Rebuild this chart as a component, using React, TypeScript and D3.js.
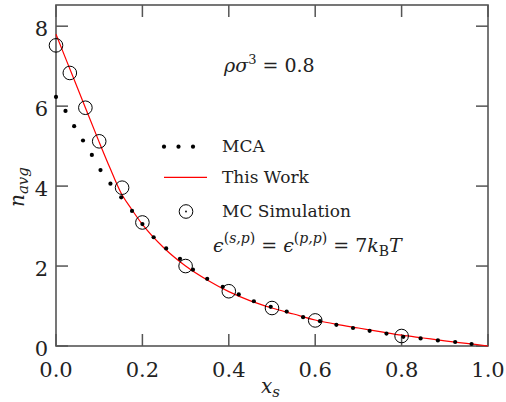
import React from 'react';
import * as d3 from 'd3';

// MCA (dots)
const mcaX = [0, 0.022, 0.042, 0.0625, 0.083, 0.103, 0.126, 0.151, 0.176, 0.2, 0.226, 0.255, 0.287, 0.317, 0.35, 0.386, 0.423, 0.458, 0.497, 0.534, 0.572, 0.611, 0.649, 0.6875, 0.726, 0.765, 0.804, 0.844, 0.884, 0.924, 0.962];
const mcaY = [6.23, 5.88, 5.5, 5.14, 4.78, 4.4, 4.06, 3.72, 3.38, 3.05, 2.72, 2.44, 2.18, 1.91, 1.68, 1.48, 1.29, 1.12, 0.98, 0.86, 0.72, 0.62, 0.53, 0.45, 0.38, 0.31, 0.23, 0.19, 0.14, 0.1, 0.05];

// This Work (red line)
const workX = [0, 0.025, 0.05, 0.075, 0.1, 0.125, 0.15, 0.175, 0.2, 0.25, 0.3, 0.35, 0.4, 0.45, 0.5, 0.55, 0.6, 0.65, 0.7, 0.75, 0.8, 0.85, 0.9, 0.95, 1.0];
const workY = [7.8, 7.12, 6.45, 5.77, 5.1, 4.45, 3.84, 3.42, 3.04, 2.45, 2.0, 1.65, 1.36, 1.13, 0.95, 0.8, 0.65, 0.54, 0.45, 0.36, 0.27, 0.2, 0.13, 0.065, 0.0];

// MC Simulation (open circles)
const mcX = [0, 0.032, 0.068, 0.1, 0.153, 0.2, 0.3, 0.4, 0.5, 0.6, 0.8];
const mcY = [7.52, 6.83, 5.96, 5.12, 3.96, 3.09, 2.0, 1.37, 0.95, 0.64, 0.25];

const xTicks = [0, 0.2, 0.4, 0.6, 0.8, 1.0];
const yTicks = [0, 2, 4, 6, 8];

const W = 506;
const H = 402;
const margin = { top: 5, right: 18, bottom: 56, left: 56 };
const serif = '"DejaVu Serif", serif';
const frame = '#555';
const ink = '#222';

export default function App() {
  const x = d3.scaleLinear().domain([0, 1]).range([margin.left, W - margin.right]);
  const y = d3.scaleLinear().domain([0, 8.53]).range([H - margin.bottom, margin.top]);

  const line = d3.line<number>()
    .x((_, i) => x(workX[i]))
    .y(d => y(d))
    .curve(d3.curveMonotoneX);

  const x0 = x(0), x1 = x(1), y0 = y(0), y1 = y(8.53);
  const tl = 12;
  const ts = { fontFamily: serif };

  return (
    <svg width={W} height={H} style={{ position: 'absolute', left: 0, top: 0, display: 'block', background: '#fff', fontFamily: serif }}>
      {/* ticks */}
      {xTicks.map(t => (
        <g key={'xt' + t}>
          <line x1={x(t)} x2={x(t)} y1={y0} y2={y0 - tl} stroke={frame} strokeWidth={1.5} />
          <line x1={x(t)} x2={x(t)} y1={y1} y2={y1 + tl} stroke={frame} strokeWidth={1.5} />
          <text x={x(t)} y={y0 + 31} textAnchor="middle" fontSize={21} fill={ink} style={ts}>{t.toFixed(1)}</text>
        </g>
      ))}
      {yTicks.map(t => (
        <g key={'yt' + t}>
          <line x1={x0} x2={x0 + tl} y1={y(t)} y2={y(t)} stroke={frame} strokeWidth={1.5} />
          <line x1={x1} x2={x1 - tl} y1={y(t)} y2={y(t)} stroke={frame} strokeWidth={1.5} />
          <text x={48} y={y(t) + 10} textAnchor="end" fontSize={21} fill={ink} style={ts}>{t}</text>
        </g>
      ))}
      {/* frame */}
      <rect x={x0} y={y1} width={x1 - x0} height={y0 - y1} fill="none" stroke={frame} strokeWidth={1.6} />

      {/* This Work */}
      <path d={line(workY) || ''} fill="none" stroke="#f00" strokeWidth={1.2} />
      {/* MCA */}
      {mcaX.map((v, i) => (
        <circle key={'m' + i} cx={x(v)} cy={y(mcaY[i])} r={2.1} fill="#000" />
      ))}
      {/* MC Simulation */}
      {mcX.map((v, i) => (
        <circle key={'c' + i} cx={x(v)} cy={y(mcY[i])} r={6.8} fill="none" stroke="#000" strokeWidth={1} />
      ))}

      {/* legend */}
      {[164, 178.5, 193].map(cx => <circle key={'l' + cx} cx={cx} cy={146.7} r={2.1} fill="#000" />)}
      <text x={222} y={152} fontSize={17} fill={ink} style={ts}>MCA</text>
      <line x1={164} x2={207} y1={177.3} y2={177.3} stroke="#f00" strokeWidth={1.2} />
      <text x={222} y={183} fontSize={17} fill={ink} style={ts}>This Work</text>
      <circle cx={186} cy={211.5} r={6.8} fill="none" stroke="#000" strokeWidth={1} />
      <circle cx={186} cy={211.5} r={0.9} fill="#000" />
      <text x={222} y={217} fontSize={17} fill={ink} style={ts}>MC Simulation</text>

      {/* annotations */}
      <text x={224} y={72} fontSize={19} fill={ink} style={ts}>
        <tspan fontStyle="italic">ρσ</tspan>
        <tspan fontSize={13} dy={-8}>3</tspan>
        <tspan dy={8}> = 0.8</tspan>
      </text>
      <text x={213} y={252} fontSize={19} fill={ink} style={ts}>
        <tspan fontStyle="italic">ϵ</tspan>
        <tspan fontSize={14} dy={-9}>(</tspan><tspan fontSize={14} fontStyle="italic">s,p</tspan><tspan fontSize={14}>)</tspan>
        <tspan dy={9}> = </tspan>
        <tspan fontStyle="italic">ϵ</tspan>
        <tspan fontSize={14} dy={-9}>(</tspan><tspan fontSize={14} fontStyle="italic">p,p</tspan><tspan fontSize={14}>)</tspan>
        <tspan dy={9}> = 7</tspan>
        <tspan fontStyle="italic">k</tspan>
        <tspan fontSize={14} dy={4}>B</tspan>
        <tspan fontStyle="italic" dy={-4}>T</tspan>
      </text>

      {/* axis titles */}
      <text x={261} y={393} fontSize={20} fill={ink} fontStyle="italic" style={ts}>
        x<tspan fontSize={15} dy={4}>s</tspan>
      </text>
      <text transform="translate(24,207) rotate(-90)" fontSize={20} fill={ink} fontStyle="italic" style={ts}>
        n<tspan fontSize={15} dy={4}>avg</tspan>
      </text>
    </svg>
  );
}
